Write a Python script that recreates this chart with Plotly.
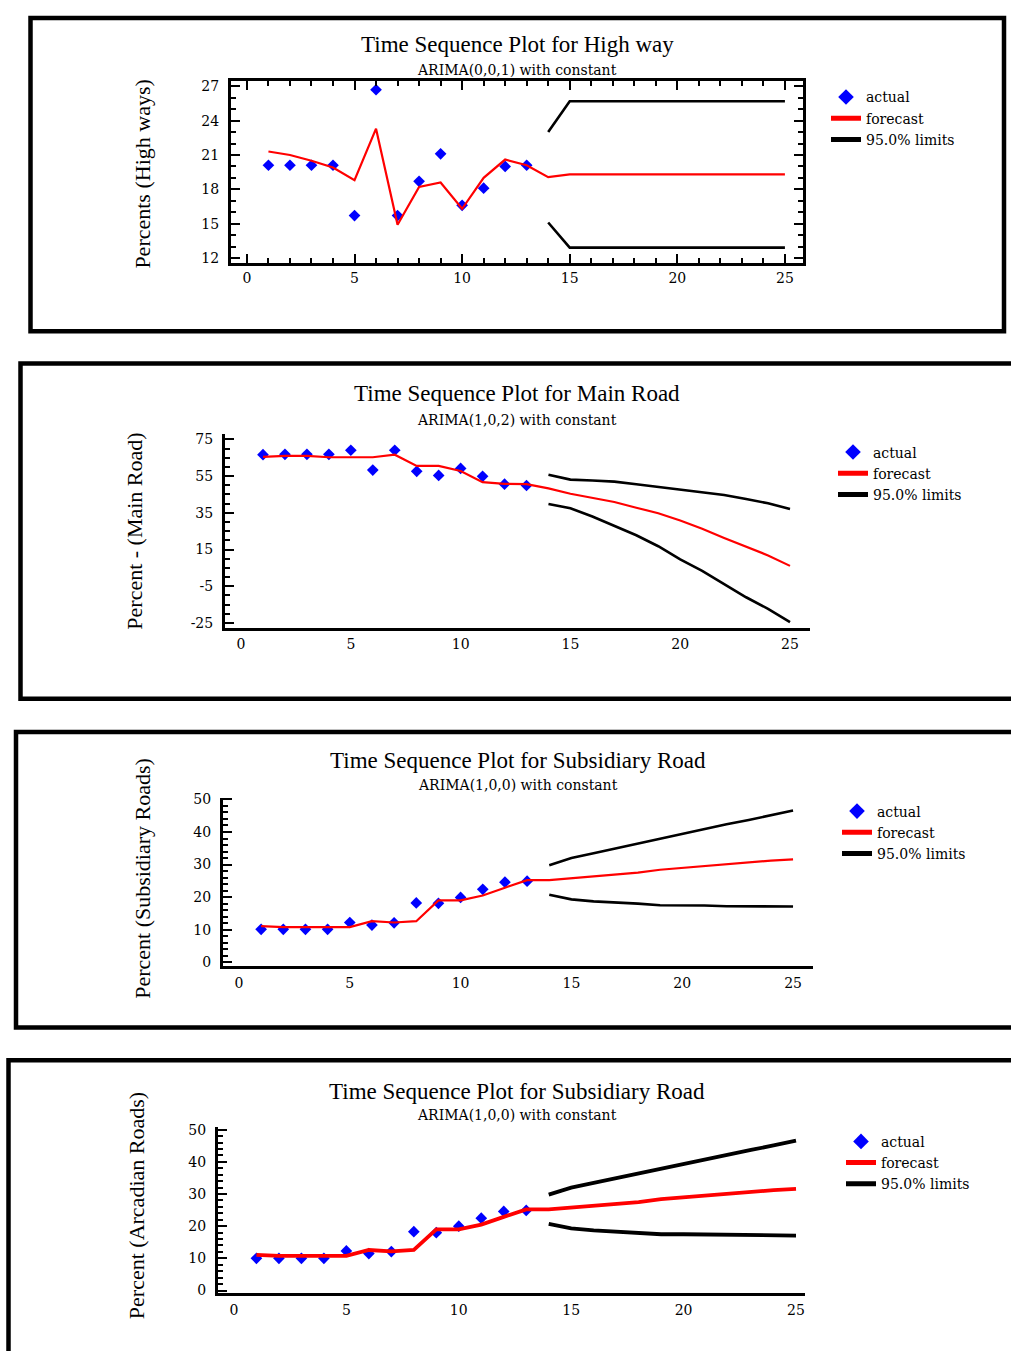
import plotly.graph_objects as go

W, H = 1011, 1351
SERIF = "Liberation Serif"
WIDE = "DejaVu Serif"


def px(x):
    return x / W


def py(y):
    return 1 - y / H


# ---------------- data ----------------
t_hist = [1, 2, 3, 4, 5, 6, 7, 8, 9, 10, 11, 12, 13]
t_fc = [1, 2, 3, 4, 5, 6, 7, 8, 9, 10, 11, 12, 13, 14, 15, 16, 17, 18, 19, 20, 21, 22, 23, 24, 25]
t_lim = [14, 15, 16, 17, 18, 19, 20, 21, 22, 23, 24, 25]
x_ticks = [0, 5, 10, 15, 20, 25]

# Panel 1: High way
hw_actual = [20.1, 20.1, 20.1, 20.1, 15.7, 26.7, 15.7, 18.7, 21.1, 16.6, 18.1, 20.0, 20.1]
hw_forecast = [21.3, 21.0, 20.5, 19.9, 18.8, 23.3, 14.9, 18.2, 18.6, 16.3, 19.0, 20.6, 20.1,
               19.06, 19.3, 19.3, 19.3, 19.3, 19.3, 19.3, 19.3, 19.3, 19.3, 19.3, 19.3]
hw_upper = [23.0, 25.7, 25.7, 25.7, 25.7, 25.7, 25.7, 25.7, 25.7, 25.7, 25.7, 25.7]
hw_lower = [15.1, 12.9, 12.9, 12.9, 12.9, 12.9, 12.9, 12.9, 12.9, 12.9, 12.9, 12.9]
hw_yticks = [12, 15, 18, 21, 24, 27]

# Panel 2: Main Road
mr_actual = [66.7, 66.9, 66.9, 66.9, 69.1, 58.3, 69.1, 57.6, 55.4, 59.2, 54.9, 50.6, 49.9]
mr_forecast = [65.5, 66.0, 66.0, 65.3, 65.3, 65.3, 66.7, 60.6, 60.6, 57.8, 51.7, 50.8, 50.6,
               48.3, 45.4, 43.2, 40.9, 37.8, 34.8, 30.8, 26.3, 21.3, 16.7, 11.8, 6.1]
mr_upper = [55.8, 53.1, 52.6, 52.0, 50.6, 49.1, 47.9, 46.5, 44.7, 42.5, 40.2, 37.1]
mr_lower = [39.8, 37.5, 33.0, 28.1, 22.8, 16.8, 9.6, 3.4, -3.8, -11.0, -17.3, -24.5]
mr_yticks = [-25, -5, 15, 35, 55, 75]

# Panel 3: Subsidiary Road
sr_actual = [10.1, 10.1, 10.1, 10.1, 12.2, 11.4, 12.1, 18.2, 18.1, 19.9, 22.4, 24.6, 24.9]
sr_forecast = [11.1, 10.8, 10.8, 10.8, 10.8, 12.6, 12.2, 12.6, 19.0, 19.0, 20.5, 22.9, 25.2,
               25.2, 25.8, 26.4, 27.0, 27.5, 28.4, 29.0, 29.6, 30.1, 30.7, 31.2, 31.6]
sr_upper = [29.8, 32.0, 33.5, 35.0, 36.5, 38.0, 39.3, 40.8, 42.4, 43.7, 45.1, 46.6]
sr_lower = [20.7, 19.3, 18.7, 18.4, 18.0, 17.5, 17.5, 17.4, 17.2, 17.2, 17.1, 17.1]
sr_yticks = [0, 10, 20, 30, 40, 50]

# Panel 4: Arcadian Roads
ar_actual = [10.0, 10.0, 10.0, 10.0, 12.3, 11.5, 12.1, 18.3, 18.0, 20.0, 22.5, 24.6, 24.9]
ar_forecast = [11.1, 10.8, 10.8, 10.8, 10.8, 12.6, 12.2, 12.6, 19.0, 19.0, 20.5, 22.9, 25.2,
               25.2, 25.8, 26.4, 27.0, 27.5, 28.4, 29.0, 29.6, 30.1, 30.7, 31.2, 31.6]
ar_upper = [29.8, 32.0, 33.5, 35.0, 36.5, 38.0, 39.3, 40.8, 42.4, 43.7, 45.1, 46.6]
ar_lower = [20.7, 19.3, 18.7, 18.4, 18.0, 17.5, 17.5, 17.4, 17.2, 17.2, 17.1, 17.1]
ar_yticks = [0, 10, 20, 30, 40, 50]

titles = ["Time Sequence Plot for High way", "Time Sequence Plot for Main Road",
          "Time Sequence Plot for Subsidiary Road", "Time Sequence Plot for Subsidiary Road"]
subtitles = ["ARIMA(0,0,1) with constant", "ARIMA(1,0,2) with constant",
             "ARIMA(1,0,0) with constant", "ARIMA(1,0,0) with constant"]
ytitles = ["Percents (High ways)", "Percent - (Main Road)",
           "Percent (Subsidiary Roads)", "Percent (Arcadian Roads)"]
legend_names = ["actual", "forecast", "95.0% limits"]

panels = [
    dict(actual=hw_actual, forecast=hw_forecast, upper=hw_upper, lower=hw_lower, yticks=hw_yticks,
         xpx=(231, 803), ypx=(76, 259), xr=(-0.74, 25.84), yr=(11.57, 27.43),
         ymin=1, xmin=1, frame=True, lw=2.2, llw=2.6, xstand=0,
         title_y=39, sub_y=65, tx=517, ytx=143, yty=170, leg=(826, 76)),
    dict(actual=mr_actual, forecast=mr_forecast, upper=mr_upper, lower=mr_lower, yticks=mr_yticks,
         xpx=(225, 810), ypx=(432, 627), xr=(-0.73, 25.91), yr=(-27.7, 77.7),
         ymin=5, xmin=None, frame=False, lw=2.2, llw=2.6, xstand=1,
         title_y=391, sub_y=417, tx=517, ytx=135, yty=530, leg=(833, 434)),
    dict(actual=sr_actual, forecast=sr_forecast, upper=sr_upper, lower=sr_lower, yticks=sr_yticks,
         xpx=(223, 813), ypx=(798, 968), xr=(-0.72, 25.9), yr=(-1.2, 50.6),
         ymin=2, xmin=None, frame=False, lw=2.2, llw=2.6, xstand=2,
         title_y=761, sub_y=785, tx=518, ytx=143, yty=880, leg=(837, 796)),
    dict(actual=ar_actual, forecast=ar_forecast, upper=ar_upper, lower=ar_lower, yticks=ar_yticks,
         xpx=(218, 805), ypx=(1130, 1298), xr=(-0.71, 25.4), yr=(-0.9, 50.9),
         ymin=2, xmin=None, frame=False, lw=3.8, llw=3.8, xstand=2,
         title_y=1094, sub_y=1118, tx=517, ytx=136, yty=1210, leg=(841, 1129)),
]

fig = go.Figure()
annotations = []
layout = {}

for i, p in enumerate(panels):
    n = i + 1
    xa = "x" if n == 1 else f"x{n}"
    ya = "y" if n == 1 else f"y{n}"
    leg = "legend" if n == 1 else f"legend{n}"

    fig.add_trace(go.Scatter(
        x=t_hist, y=p["actual"], mode="markers", name=legend_names[0],
        marker=dict(symbol="diamond", size=9, color="#0000ff"),
        xaxis=xa, yaxis=ya, legend=leg))
    fig.add_trace(go.Scatter(
        x=t_fc, y=p["forecast"], mode="lines", name=legend_names[1],
        line=dict(color="#ff0000", width=p["lw"]),
        xaxis=xa, yaxis=ya, legend=leg))
    fig.add_trace(go.Scatter(
        x=t_lim, y=p["upper"], mode="lines", name=legend_names[2],
        line=dict(color="#000000", width=p["llw"]), legendgroup=f"lim{n}",
        xaxis=xa, yaxis=ya, legend=leg))
    fig.add_trace(go.Scatter(
        x=t_lim, y=p["lower"], mode="lines", name=legend_names[2],
        line=dict(color="#000000", width=p["llw"]), legendgroup=f"lim{n}",
        showlegend=False, xaxis=xa, yaxis=ya, legend=leg))

    tickfont = dict(family=WIDE, size=14, color="black")
    xaxis = dict(
        domain=[px(p["xpx"][0]), px(p["xpx"][1])], range=list(p["xr"]),
        anchor=ya, tickmode="array", tickvals=x_ticks, ticktext=[str(v) for v in x_ticks],
        showgrid=False, zeroline=False, showline=True, linecolor="black",
        linewidth=3, tickfont=tickfont, ticklabelstandoff=p["xstand"],
    )
    yaxis = dict(
        domain=[py(p["ypx"][1]), py(p["ypx"][0])], range=list(p["yr"]),
        anchor=xa, tickmode="array", tickvals=p["yticks"],
        ticktext=[str(v) for v in p["yticks"]],
        showgrid=False, zeroline=False, showline=True, linecolor="black",
        linewidth=3, tickfont=tickfont, ticks="inside", ticklen=9, tickwidth=2,
        tickcolor="black", ticklabelstandoff=6,
        minor=dict(tickmode="linear", dtick=p["ymin"], tick0=p["yticks"][0], ticks="inside",
                   ticklen=5, tickwidth=2, tickcolor="black", showgrid=False),
    )
    if p["frame"]:
        xaxis.update(mirror="allticks", ticks="inside", ticklen=9, tickwidth=2,
                     tickcolor="black",
                     minor=dict(tickmode="linear", dtick=p["xmin"], tick0=0, ticks="inside",
                                ticklen=5, tickwidth=2, tickcolor="black", showgrid=False))
        yaxis.update(mirror="allticks")
    else:
        xaxis.update(ticks="")
    layout["xaxis" if n == 1 else f"xaxis{n}"] = xaxis
    layout["yaxis" if n == 1 else f"yaxis{n}"] = yaxis

    layout[leg] = dict(
        x=px(p["leg"][0]), y=py(p["leg"][1]), xanchor="left", yanchor="top",
        bgcolor="rgba(0,0,0,0)", borderwidth=0, tracegroupgap=0,
        font=dict(family=WIDE, size=14, color="black"), itemsizing="constant",
    )

    annotations.append(dict(
        x=px(p["tx"]), y=py(p["title_y"]), xref="paper", yref="paper",
        text=titles[i], showarrow=False, xanchor="center", yanchor="middle",
        font=dict(family=SERIF, size=23, color="black")))
    annotations.append(dict(
        x=px(p["tx"]), y=py(p["sub_y"]), xref="paper", yref="paper",
        text=subtitles[i], showarrow=False, xanchor="center", yanchor="middle",
        font=dict(family=WIDE, size=14, color="black")))
    annotations.append(dict(
        x=px(p["ytx"]), y=py(p["yty"]), xref="paper", yref="paper",
        text=ytitles[i], showarrow=False, textangle=-90, xanchor="center", yanchor="middle",
        font=dict(family=SERIF, size=22, color="black")))

boxes = [(30.5, 12, 1004, 328), (20.5, 360.5, 1040, 698.5),
         (16, 732, 1040, 1030), (8.5, 1063, 1040, 1420)]
shapes = []
for (x0, y0, x1, y1) in boxes:
    shapes.append(dict(type="rect", xref="paper", yref="paper",
                       x0=px(x0), x1=px(x1), y0=py(y1), y1=py(y0),
                       line=dict(color="black", width=4.5), fillcolor="rgba(0,0,0,0)",
                       layer="above"))

fig.update_layout(
    width=W, height=H, autosize=False,
    margin=dict(l=0, r=0, t=0, b=0),
    paper_bgcolor="white", plot_bgcolor="white",
    annotations=annotations, shapes=shapes,
    **layout,
)

fig.write_html(
    "out.html",
    config={"displayModeBar": False},
    post_script="document.body.style.margin='0';document.body.style.overflow='hidden';",
)
